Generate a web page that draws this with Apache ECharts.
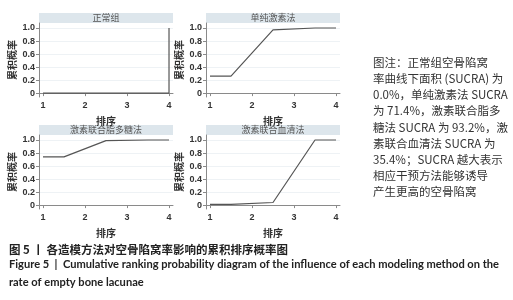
<!DOCTYPE html>
<html><head><meta charset="utf-8">
<script src="https://cdn.jsdelivr.net/npm/echarts@6/dist/echarts.min.js"></script>
<style>html,body{margin:0;padding:0;background:#fff}#c{width:513px;height:300px}</style>
</head><body><div id="c"></div>
<script>
// ---- data ----
const panelTitles = ['正常组', '单纯激素法', '激素联合脂多糖法', '激素联合血清法'];
const rankTicks = [1, 2, 3, 4];
const probTicks = [0, 0.2, 0.4, 0.6, 0.8, 1.0];
const normalX = [1, 4, 4];
const normalY = [0, 0, 1];
const stepX = [1, 1.5, 2.5, 3.5, 4];
const pureHormoneY = [0.26, 0.26, 0.97, 1.0, 1.0];
const lpsY = [0.74, 0.74, 0.99, 1.0, 1.0];
const serumY = [0.01, 0.01, 0.04, 1.0, 1.0];
const yName = '累积概率';
const xName = '排序';
const noteLines = [
  '图注：正常组空骨陷窝',
  '率曲线下面积 (SUCRA) 为',
  '0.0%，单纯激素法 SUCRA',
  '为 71.4%，激素联合脂多',
  '糖法 SUCRA 为 93.2%，激',
  '素联合血清法 SUCRA 为',
  '35.4%；SUCRA 越大表示',
  '相应干预方法能够诱导',
  '产生更高的空骨陷窝'
];
const captionCN = '图 5 丨 各造模方法对空骨陷窝率影响的累积排序概率图';
const captionEN1 = 'Figure 5  |  Cumulative ranking probability diagram of the influence of each modeling method on the';
const captionEN2 = 'rate of empty bone lacunae';

const seriesX = [normalX, stepX, stepX, stepX];
const seriesY = [normalY, pureHormoneY, lpsY, serumY];

// ---- layout ----
const grids = [
  {left: 39, top: 23, width: 134, height: 74},
  {left: 206, top: 23, width: 134, height: 74},
  {left: 39, top: 135, width: 134, height: 74},
  {left: 206, top: 135, width: 134, height: 74}
];
const tickFont = {fontFamily: 'Liberation Sans', fontWeight: 'bold', fontSize: 9, color: '#333'};

const option = {
  animation: false,
  backgroundColor: '#fff',
  grid: grids,
  xAxis: grids.map((g, i) => ({
    gridIndex: i, type: 'value', min: 0.905, max: 4.095,
    axisLine: {show: true, lineStyle: {color: '#8a8a8a', width: 1}},
    axisTick: {show: true, length: 3, lineStyle: {color: '#8a8a8a'}, customValues: rankTicks},
    axisLabel: Object.assign({margin: 4, customValues: rankTicks, formatter: v => String(v)}, tickFont),
    splitLine: {show: false},
    name: xName, nameLocation: 'middle', nameGap: 19,
    nameTextStyle: {fontFamily: 'Noto Sans CJK SC', fontWeight: 'bold', fontSize: 10, color: '#333'}
  })),
  yAxis: grids.map((g, i) => ({
    gridIndex: i, type: 'value', min: -0.06, max: 1.077,
    axisLine: {show: true, lineStyle: {color: '#8a8a8a', width: 1}},
    axisTick: {show: true, length: 3, lineStyle: {color: '#8a8a8a'}, customValues: probTicks},
    axisLabel: Object.assign({margin: 4, customValues: probTicks, formatter: v => v === 0 ? '0' : v.toFixed(1)}, tickFont),
    splitLine: {show: true, lineStyle: {color: '#eef2f5', width: 1}},
    name: yName, nameLocation: 'middle', nameGap: 22,
    nameTextStyle: {fontFamily: 'Noto Sans CJK SC', fontWeight: 'bold', fontSize: 10, color: '#333'}
  })),
  series: seriesY.map((ys, i) => ({
    type: 'line', xAxisIndex: i, yAxisIndex: i,
    data: ys.map((y, k) => [seriesX[i][k], y]),
    showSymbol: false, symbol: 'none',
    lineStyle: {color: '#555', width: 1.2},
    clip: false
  })),
  graphic: []
};

// panel header strips
grids.forEach((g, i) => {
  option.graphic.push({
    type: 'rect', shape: {x: g.left, y: g.top - 10, width: g.width, height: 10},
    style: {fill: '#dde6ec'}, silent: true
  });
  option.graphic.push({
    type: 'text', x: g.left + g.width / 2, y: g.top - 5,
    style: {text: panelTitles[i], fontFamily: 'Noto Sans CJK SC', fontSize: 9, fill: '#555',
      align: 'center', verticalAlign: 'middle'}
  });
});

// right note
noteLines.forEach((t, i) => {
  option.graphic.push({
    type: 'text', x: 373, y: 62.7 + 16.125 * i,
    style: {text: t, fontFamily: 'Noto Sans CJK SC', fontSize: 11.5, fill: '#333',
      align: 'left', verticalAlign: 'middle'}
  });
});

// caption
option.graphic.push({
  type: 'text', x: 9, y: 249.5,
  style: {text: captionCN, fontFamily: 'Noto Sans CJK SC', fontWeight: 'bold', fontSize: 11.5, fill: '#222',
    align: 'left', verticalAlign: 'middle'}
});
option.graphic.push({
  type: 'text', x: 9, y: 264.5,
  style: {text: captionEN1, fontFamily: 'Lato', fontWeight: 'bold', fontSize: 11.1, fill: '#222',
    align: 'left', verticalAlign: 'middle'}
});
option.graphic.push({
  type: 'text', x: 9, y: 282,
  style: {text: captionEN2, fontFamily: 'Lato', fontWeight: 'bold', fontSize: 11.1, fill: '#222',
    align: 'left', verticalAlign: 'middle'}
});

const chart = echarts.init(document.getElementById('c'), null, {renderer: 'canvas'});
chart.setOption(option);
</script>
</body></html>
